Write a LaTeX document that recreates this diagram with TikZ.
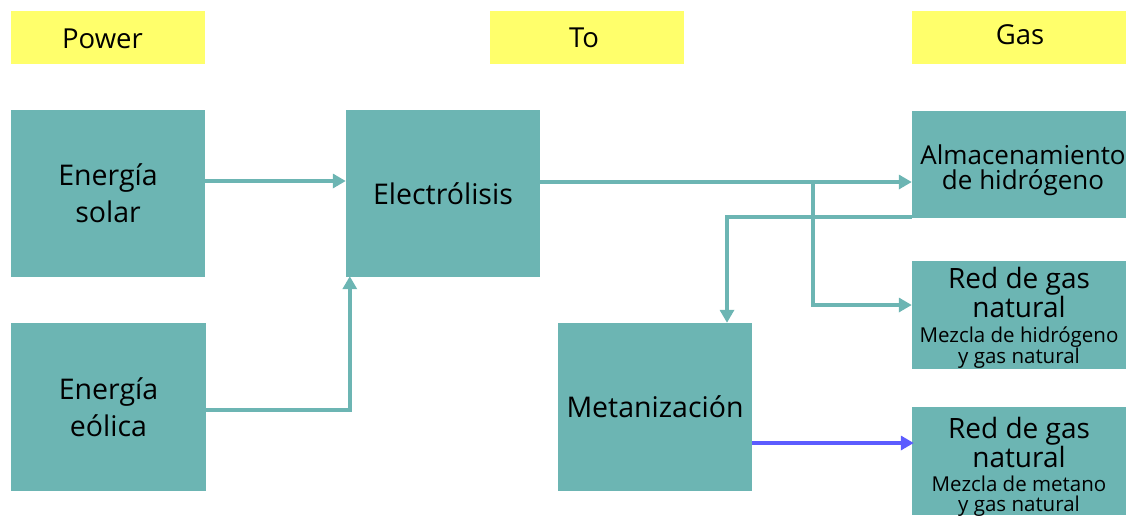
\documentclass[tikz,border=0pt]{standalone}
\usepackage{fontspec}
\setmainfont{Open Sans}
\usetikzlibrary{arrows.meta,calc}
\definecolor{teal1}{HTML}{6CB5B3}
\definecolor{yell}{HTML}{FFFF6B}
\definecolor{blu}{HTML}{5C5CFF}
\tikzset{
  hdr/.style={fill=yell, inner sep=0pt, minimum width=194pt, minimum height=53pt},
  hdrtext/.style={inner sep=0pt, font=\fontsize{27.5}{30}\selectfont},
  box/.style={fill=teal1, inner sep=0pt, align=center, font=\fontsize{28.5}{37}\selectfont},
  big/.style={align=center, inner sep=0pt, font=\fontsize{28}{24}\selectfont},
  conn/.style={draw=teal1, line width=3.5pt, -{Triangle[length=13pt,width=14pt]}},
  plain/.style={draw=teal1, line width=3.5pt},
}
\newcommand{\smalltxt}[1]{{\fontsize{20.5}{19}\selectfont #1}}
\begin{document}
\begin{tikzpicture}[x=1pt,y=-1pt]
\useasboundingbox (0,0) rectangle (1130,515);
% headers
\node[hdr] (hp) at (108,37.5) {};
\node[hdrtext] (hpt) at (102.5,39) {Power};
\node[hdr] (ht) at (587,37.5) {};
\node[hdrtext] (htt) at (584,38) {To};
\node[hdr, minimum width=214pt] (hg) at (1019,37.5) {};
\node[hdrtext] (hgt) at (1020,35) {Gas};
% boxes
\node[box, minimum width=194pt, minimum height=167pt] (solar) at (108,193.5) {Energía\\solar};
\node[box, minimum width=195pt, minimum height=168pt] (eol) at (108.5,407) {Energía\\eólica};
\node[box, minimum width=194pt, minimum height=167pt] (elec) at (443,193.5) {Electrólisis};
\node[box, minimum width=194pt, minimum height=168pt] (meta) at (655,407) {Metanización};
\node[box, minimum width=214pt, minimum height=107pt] (alm) at (1019,164.5) {};
\node[align=center, inner sep=0pt, font=\fontsize{26}{25}\selectfont] (almt) at (1023,170) {Almacenamiento\\de hidrógeno};
\node[box, minimum width=214pt, minimum height=108pt] (red1) at (1019,315) {};
\node[big] (red1t) at (1019,318) {Red de gas\\natural\\[1pt]\smalltxt{Mezcla de hidrógeno}\\[-3pt]\smalltxt{y gas natural}};
\node[box, minimum width=214pt, minimum height=108pt] (red2) at (1019,461) {};
\node[big] (red2t) at (1019,467) {Red de gas\\natural\\[0pt]\smalltxt{Mezcla de metano}\\[-4pt]\smalltxt{y gas natural}};
% junctions
\coordinate (j1) at (813,182);
\coordinate (j3) at (813,305);
\coordinate (j2) at (727,217);
\coordinate (sy) at (0,181);
\coordinate (by) at (0,443);
% connectors
\draw[conn] (solar.east |- sy) -- (elec.west |- sy);
\draw[conn, shorten >=-1pt] (eol.east |- 0,410) -| ($(elec.south west)+(4,0)$);
\draw[plain] ($(elec.east |- j1)+(-2,0)$) -- (j1);
\draw[conn] (j1) -- (alm.west |- j1);
\draw[conn] (j1) -- (j3) -- (red1.west |- j3);
\draw[conn] (alm.west |- j2) -- (j2) -- (j2 |- meta.north);
\draw[conn, draw=blu, fill=blu] (meta.east |- by) -- ($(red2.west |- by)+(2,0)$);
\end{tikzpicture}
\end{document}
